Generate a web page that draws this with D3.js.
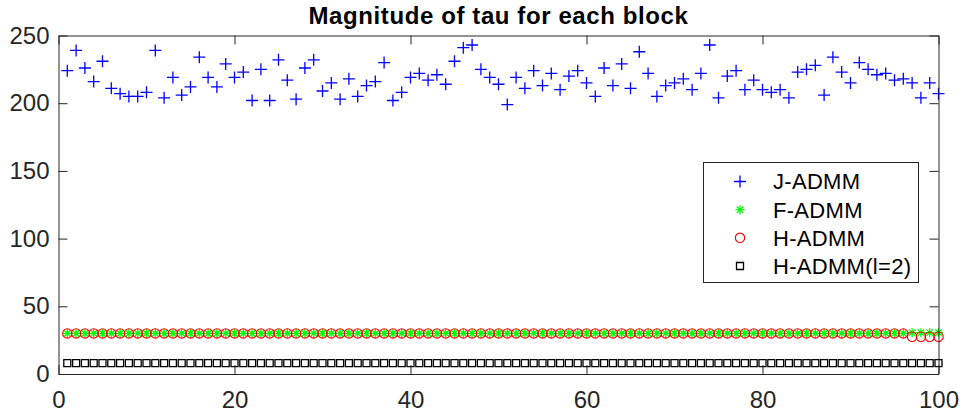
<!DOCTYPE html>
<html lang="en">
<head>
    <meta charset="UTF-8">
    <title>Magnitude of tau for each block</title>
    <style>
        body {
            margin: 0;
            background-color: #ffffff;
        }
        svg {
            display: block;
            font-family: "Liberation Sans", Arial, Helvetica, sans-serif;
        }
    </style>
    <script src="https://d3js.org/d3.v7.min.js"></script>
</head>
<body>
    <svg width="962" height="415"></svg>
    <script>
        // block index 1..100
        const blocks = [
            1, 2, 3, 4, 5, 6, 7, 8, 9, 10, 11, 12, 13, 14, 15, 16, 17, 18, 19, 20,
            21, 22, 23, 24, 25, 26, 27, 28, 29, 30, 31, 32, 33, 34, 35, 36, 37, 38, 39, 40,
            41, 42, 43, 44, 45, 46, 47, 48, 49, 50, 51, 52, 53, 54, 55, 56, 57, 58, 59, 60,
            61, 62, 63, 64, 65, 66, 67, 68, 69, 70, 71, 72, 73, 74, 75, 76, 77, 78, 79, 80,
            81, 82, 83, 84, 85, 86, 87, 88, 89, 90, 91, 92, 93, 94, 95, 96, 97, 98, 99, 100
        ];

        const jAdmm = [
            224, 239, 226, 216, 231, 211, 207, 205, 205, 208, 239, 204, 219, 206, 212, 234, 219, 212, 229, 219,
            223, 202, 225, 202, 232, 217, 203, 226, 232, 209, 215, 203, 218, 205, 213, 216, 230, 202, 208, 219,
            222, 217, 221, 214, 231, 241, 243, 225, 219, 214, 199, 219, 211, 224, 213, 222, 210, 220, 224, 215,
            205, 226, 213, 229, 211, 238, 222, 205, 213, 215, 218, 210, 222, 243, 204, 220, 224, 210, 217, 210,
            208, 210, 204, 223, 225, 228, 206, 234, 223, 215, 230, 225, 221, 222, 217, 218, 215, 204, 215, 207
        ];

        const fAdmm = [
            30, 30, 30, 30, 30, 30, 30, 30, 30, 30, 30, 30, 30, 30, 30, 30, 30, 30, 30, 30,
            30, 30, 30, 30, 30, 30, 30, 30, 30, 30, 30, 30, 30, 30, 30, 30, 30, 30, 30, 30,
            30, 30, 30, 30, 30, 30, 30, 30, 30, 30, 30, 30, 30, 30, 30, 30, 30, 30, 30, 30,
            30, 30, 30, 30, 30, 30, 30, 30, 30, 30, 30, 30, 30, 30, 30, 30, 30, 30, 30, 30,
            30, 30, 30, 30, 30, 30, 30, 30, 30, 30, 30, 30, 30, 30, 30, 30, 30.5, 30.5, 30.5, 30.5
        ];

        const hAdmm = [
            30, 30, 30, 30, 30, 30, 30, 30, 30, 30, 30, 30, 30, 30, 30, 30, 30, 30, 30, 30,
            30, 30, 30, 30, 30, 30, 30, 30, 30, 30, 30, 30, 30, 30, 30, 30, 30, 30, 30, 30,
            30, 30, 30, 30, 30, 30, 30, 30, 30, 30, 30, 30, 30, 30, 30, 30, 30, 30, 30, 30,
            30, 30, 30, 30, 30, 30, 30, 30, 30, 30, 30, 30, 30, 30, 30, 30, 30, 30, 30, 30,
            30, 30, 30, 30, 30, 30, 30, 30, 30, 30, 30, 30, 30, 30, 30, 30, 27.5, 27.5, 27.5, 27.5
        ];

        const hAdmm2 = [
            8, 8, 8, 8, 8, 8, 8, 8, 8, 8, 8, 8, 8, 8, 8, 8, 8, 8, 8, 8,
            8, 8, 8, 8, 8, 8, 8, 8, 8, 8, 8, 8, 8, 8, 8, 8, 8, 8, 8, 8,
            8, 8, 8, 8, 8, 8, 8, 8, 8, 8, 8, 8, 8, 8, 8, 8, 8, 8, 8, 8,
            8, 8, 8, 8, 8, 8, 8, 8, 8, 8, 8, 8, 8, 8, 8, 8, 8, 8, 8, 8,
            8, 8, 8, 8, 8, 8, 8, 8, 8, 8, 8, 8, 8, 8, 8, 8, 8, 8, 8, 8
        ];

        const xTicks = [0, 20, 40, 60, 80, 100];
        const yTicks = [0, 50, 100, 150, 200, 250];
        const seriesNames = ["J-ADMM", "F-ADMM", "H-ADMM", "H-ADMM(l=2)"];
        const titleText = "Magnitude of tau for each block";

        const svg = d3.select("svg");
        const axisColor = "#262626";

        const plotL = 58.5, plotR = 938.5, plotT = 35.5, plotB = 374;
        const x = d3.scaleLinear().domain([0, 100]).range([plotL, plotR]);
        const y = d3.scaleLinear().domain([0, 250]).range([plotB, plotT]);

        // marker shapes (MATLAB style)
        const markers = {
            plus: "M-6,0H6M0,-6V6",
            star: "M-4.5,0H4.5M0,-4.5V4.5M-3.2,-3.2L3.2,3.2M-3.2,3.2L3.2,-3.2",
            circle: null,
            square: "M-3.5,-3.5H3.5V3.5H-3.5Z"
        };
        const series = [
            { name: seriesNames[0], values: jAdmm, color: "#0000ff", shape: "plus" },
            { name: seriesNames[1], values: fAdmm, color: "#00ff00", shape: "star" },
            { name: seriesNames[2], values: hAdmm, color: "#ff0000", shape: "circle" },
            { name: seriesNames[3], values: hAdmm2, color: "#000000", shape: "square" }
        ];

        function drawMarker(g, s) {
            if (s.shape === "circle") {
                g.append("circle").attr("r", 4.7)
                    .attr("fill", "none").attr("stroke", s.color).attr("stroke-width", 1.1);
            } else {
                g.append("path").attr("d", markers[s.shape])
                    .attr("fill", "none").attr("stroke", s.color).attr("stroke-width", 1.3);
            }
        }

        // white axes background
        svg.append("rect")
            .attr("x", plotL).attr("y", plotT)
            .attr("width", plotR - plotL).attr("height", plotB - plotT)
            .attr("fill", "#ffffff");

        // points
        series.forEach(s => {
            const g = svg.append("g");
            blocks.forEach((b, i) => {
                const m = g.append("g")
                    .attr("transform", `translate(${x(b)},${y(s.values[i])})`);
                drawMarker(m, s);
            });
        });

        // axes with inward ticks
        const tickLen = 9;
        const xAxis = svg.append("g")
            .attr("transform", `translate(0,${plotB})`)
            .call(d3.axisBottom(x).tickValues(xTicks).tickSize(-tickLen).tickSizeOuter(0).tickPadding(17));
        const yAxis = svg.append("g")
            .attr("transform", `translate(${plotL},0)`)
            .call(d3.axisLeft(y).tickValues(yTicks).tickSize(-tickLen).tickSizeOuter(0).tickPadding(9));
        const xTop = svg.append("g")
            .attr("transform", `translate(0,${plotT})`)
            .call(d3.axisTop(x).tickValues(xTicks).tickSize(-tickLen).tickSizeOuter(0).tickFormat(""));
        const yRight = svg.append("g")
            .attr("transform", `translate(${plotR},0)`)
            .call(d3.axisRight(y).tickValues(yTicks).tickSize(-tickLen).tickSizeOuter(0).tickFormat(""));

        [xAxis, yAxis, xTop, yRight].forEach(a => {
            a.select(".domain").attr("stroke", axisColor);
            a.selectAll(".tick line").attr("stroke", axisColor);
            a.selectAll(".tick text")
                .attr("fill", axisColor)
                .style("font-size", "24px")
                .style("font-family", "'Liberation Sans', Arial, sans-serif");
        });

        // title
        svg.append("text")
            .attr("x", (plotL + plotR) / 2)
            .attr("y", 23.5)
            .attr("text-anchor", "middle")
            .style("font-size", "24px")
            .style("letter-spacing", "0.6px")
            .style("font-weight", "bold")
            .attr("fill", "#000000")
            .text(titleText);

        // legend
        const legend = svg.append("g");
        legend.append("rect")
            .attr("x", 703.5).attr("y", 162.5)
            .attr("width", 215).attr("height", 120)
            .attr("fill", "#ffffff")
            .attr("stroke", axisColor);

        const rowY = d3.scalePoint().domain(seriesNames).range([181.5, 266]);
        series.forEach(s => {
            const row = legend.append("g")
                .attr("transform", `translate(0,${rowY(s.name)})`);
            const m = row.append("g").attr("transform", "translate(740,0)");
            drawMarker(m, s);
            row.append("text")
                .attr("x", 773)
                .attr("dy", "0.36em")
                .style("font-size", "22px")
                .style("letter-spacing", "0.3px")
                .attr("fill", "#000000")
                .text(s.name);
        });
    </script>
</body>
</html>
